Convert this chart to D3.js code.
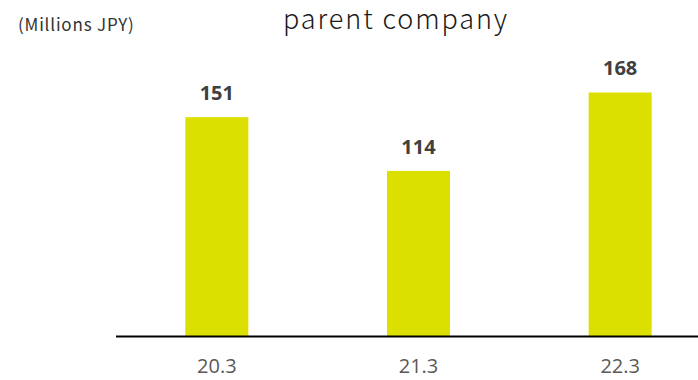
<!DOCTYPE html>
<html>
<head>
<meta charset="utf-8">
<script src="https://cdn.jsdelivr.net/npm/d3@7"></script>
<style>
  html, body { margin: 0; padding: 0; background: #fff; }
  svg { display: block; }
</style>
</head>
<body>
<svg id="chart" width="698" height="380"></svg>
<script>
// Fiscal years and net income of the parent company (millions of yen)
const categories = ["20.3", "21.3", "22.3"];
const values = [151, 114, 168];
const title = "parent company";
const unitLabel = "(Millions JPY)";

const width = 698, height = 380;
const svg = d3.select("#chart");

const x = d3.scaleBand()
  .domain(categories)
  .range([116, 721])
  .paddingInner(0.6875)
  .paddingOuter(0.34375);

const y = d3.scaleLinear()
  .domain([0, 200])
  .range([336.5, 46]);

// Bars
svg.append("g")
  .selectAll("rect")
  .data(values)
  .join("rect")
  .attr("x", (d, i) => x(categories[i]))
  .attr("y", d => y(d))
  .attr("width", x.bandwidth())
  .attr("height", d => y(0) - y(d))
  .attr("fill", "#DCE000");

// Value labels above bars
svg.append("g")
  .selectAll("text")
  .data(values)
  .join("text")
  .attr("x", (d, i) => x(categories[i]) + x.bandwidth() / 2)
  .attr("y", d => y(d) - 17)
  .attr("text-anchor", "middle")
  .attr("font-family", "'Open Sans', 'Noto Sans', sans-serif")
  .attr("font-weight", "bold")
  .attr("font-size", 20)
  .attr("fill", "#404040")
  .text(d => d);

// Category axis
const xAxis = svg.append("g")
  .attr("transform", `translate(0,${y(0)})`)
  .call(d3.axisBottom(x).tickSize(0).tickPadding(22));
xAxis.select(".domain")
  .attr("d", `M${x.range()[0]},0H${width}`)
  .attr("stroke", "#000")
  .attr("stroke-width", 2);
xAxis.selectAll("text")
  .attr("font-family", "'Open Sans', 'Noto Sans', sans-serif")
  .attr("font-size", 20)
  .attr("fill", "#595959");

// Title and unit
svg.append("text")
  .attr("x", 396)
  .attr("y", 29)
  .attr("text-anchor", "middle")
  .attr("font-family", "'Noto Sans CJK JP', 'Noto Sans', sans-serif")
  .attr("font-weight", 300)
  .attr("font-size", 27)
  .attr("letter-spacing", 1.9)
  .attr("fill", "#1a1a1a")
  .text(title);

svg.append("text")
  .attr("x", 18)
  .attr("y", 31)
  .attr("font-family", "'Noto Sans CJK JP', 'Noto Sans', sans-serif")
  .attr("font-size", 17)
  .attr("letter-spacing", 0.8)
  .attr("fill", "#333")
  .text(unitLabel);
</script>
</body>
</html>
